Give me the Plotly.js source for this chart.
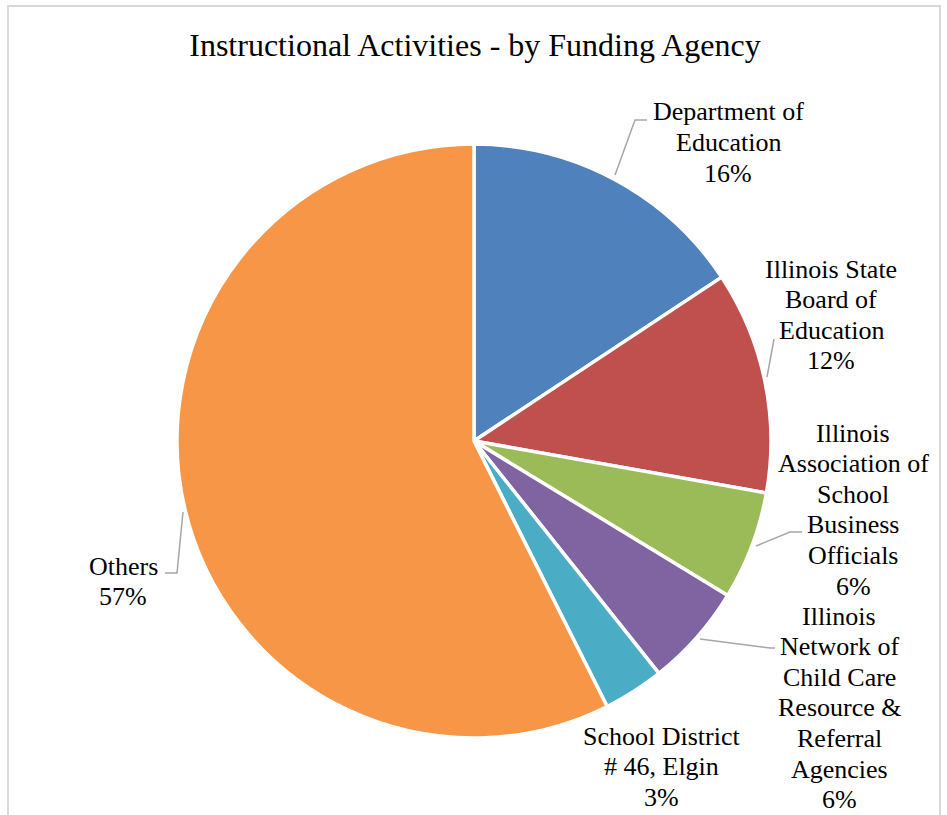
<!DOCTYPE html>
<html>
<head>
<meta charset="utf-8">
<script src="https://cdn.plot.ly/plotly-3.0.1.min.js"></script>
<style>
  html, body { margin: 0; padding: 0; background: #ffffff; }
  #chart { position: absolute; left: 0; top: 0; width: 947px; height: 815px; }
  #frame { position: absolute; left: 7px; top: 5px; width: 930px; height: 840px;
           border: 2px solid #d9d9d9; pointer-events: none; }
</style>
</head>
<body>
<div id="chart"></div>
<div id="frame"></div>
<script>
// ---- data ----
const categories = [
  'Department of Education',
  'Illinois State Board of Education',
  'Illinois Association of School Business Officials',
  'Illinois Network of Child Care Resource & Referral Agencies',
  'School District # 46, Elgin',
  'Others'
];
const shares = [15.7, 12.1, 5.9, 5.6, 3.3, 57.4];
const labelLines = [
  ['Department of', 'Education'],
  ['Illinois State', 'Board of', 'Education'],
  ['Illinois', 'Association of', 'School', 'Business', 'Officials'],
  ['Illinois', 'Network of', 'Child Care', 'Resource &', 'Referral', 'Agencies'],
  ['School District', '# 46, Elgin'],
  ['Others']
];
const sliceColors = ['#4F81BD', '#C0504D', '#9BBB59', '#8064A2', '#4BACC6', '#F79646'];

// ---- layout helpers ----
const W = 947, H = 815;
const px = x => x / W;
const py = y => 1 - y / H;

// label block anchor (center x, first line center y) in pixels
const labelPos = [[728, 112], [831, 269], [853, 433], [839, 616], [661, 736], [123, 566]];
const lineStep = 30.6;

// leader lines (pixel polylines)
const leaders = [
  [[615, 175], [635, 120], [647, 120]],
  [[767, 377], [774, 339]],
  [[756, 546], [790, 532], [802, 532]],
  [[700, 639], [770, 648], [775, 648]],
  null,
  [[183, 512], [177, 573], [165, 573]]
];

const total = shares.reduce((a, b) => a + b, 0);
const annotations = [];
labelLines.forEach((lines, i) => {
  const all = lines.concat([Math.round(shares[i] / total * 100) + '%']);
  all.forEach((t, j) => {
    annotations.push({
      text: t, showarrow: false, xref: 'paper', yref: 'paper',
      x: px(labelPos[i][0]), y: py(labelPos[i][1] + j * lineStep),
      xanchor: 'center', yanchor: 'middle',
      font: { family: 'Liberation Serif, Times New Roman, serif', size: 26, color: '#000000' }
    });
  });
});

const shapes = leaders.filter(l => l).map(l => ({
  type: 'path', xref: 'paper', yref: 'paper',
  path: l.map((p, k) => (k ? 'L' : 'M') + px(p[0]) + ',' + py(p[1])).join(' '),
  line: { color: '#a6a6a6', width: 1.5 }
}));

const cx = 474, cy = 441, r = 297;

const trace = {
  type: 'pie',
  labels: categories,
  values: shares,
  sort: false,
  direction: 'clockwise',
  rotation: 0,
  textinfo: 'none',
  hoverinfo: 'skip',
  marker: { colors: sliceColors, line: { color: '#ffffff', width: 3.5 } },
  domain: { x: [px(cx - r), px(cx + r)], y: [py(cy + r), py(cy - r)] }
};

const layout = {
  width: W, height: H,
  margin: { l: 0, r: 0, t: 0, b: 0 },
  paper_bgcolor: '#ffffff',
  showlegend: false,
  title: {
    text: 'Instructional Activities - by Funding Agency',
    x: px(475), xanchor: 'center', xref: 'paper',
    y: py(45), yanchor: 'middle', yref: 'container',
    font: { family: 'Liberation Serif, Times New Roman, serif', size: 32, color: '#000000' }
  },
  annotations: annotations,
  shapes: shapes
};

Plotly.newPlot('chart', [trace], layout, { staticPlot: true, displayModeBar: false });
</script>
</body>
</html>
